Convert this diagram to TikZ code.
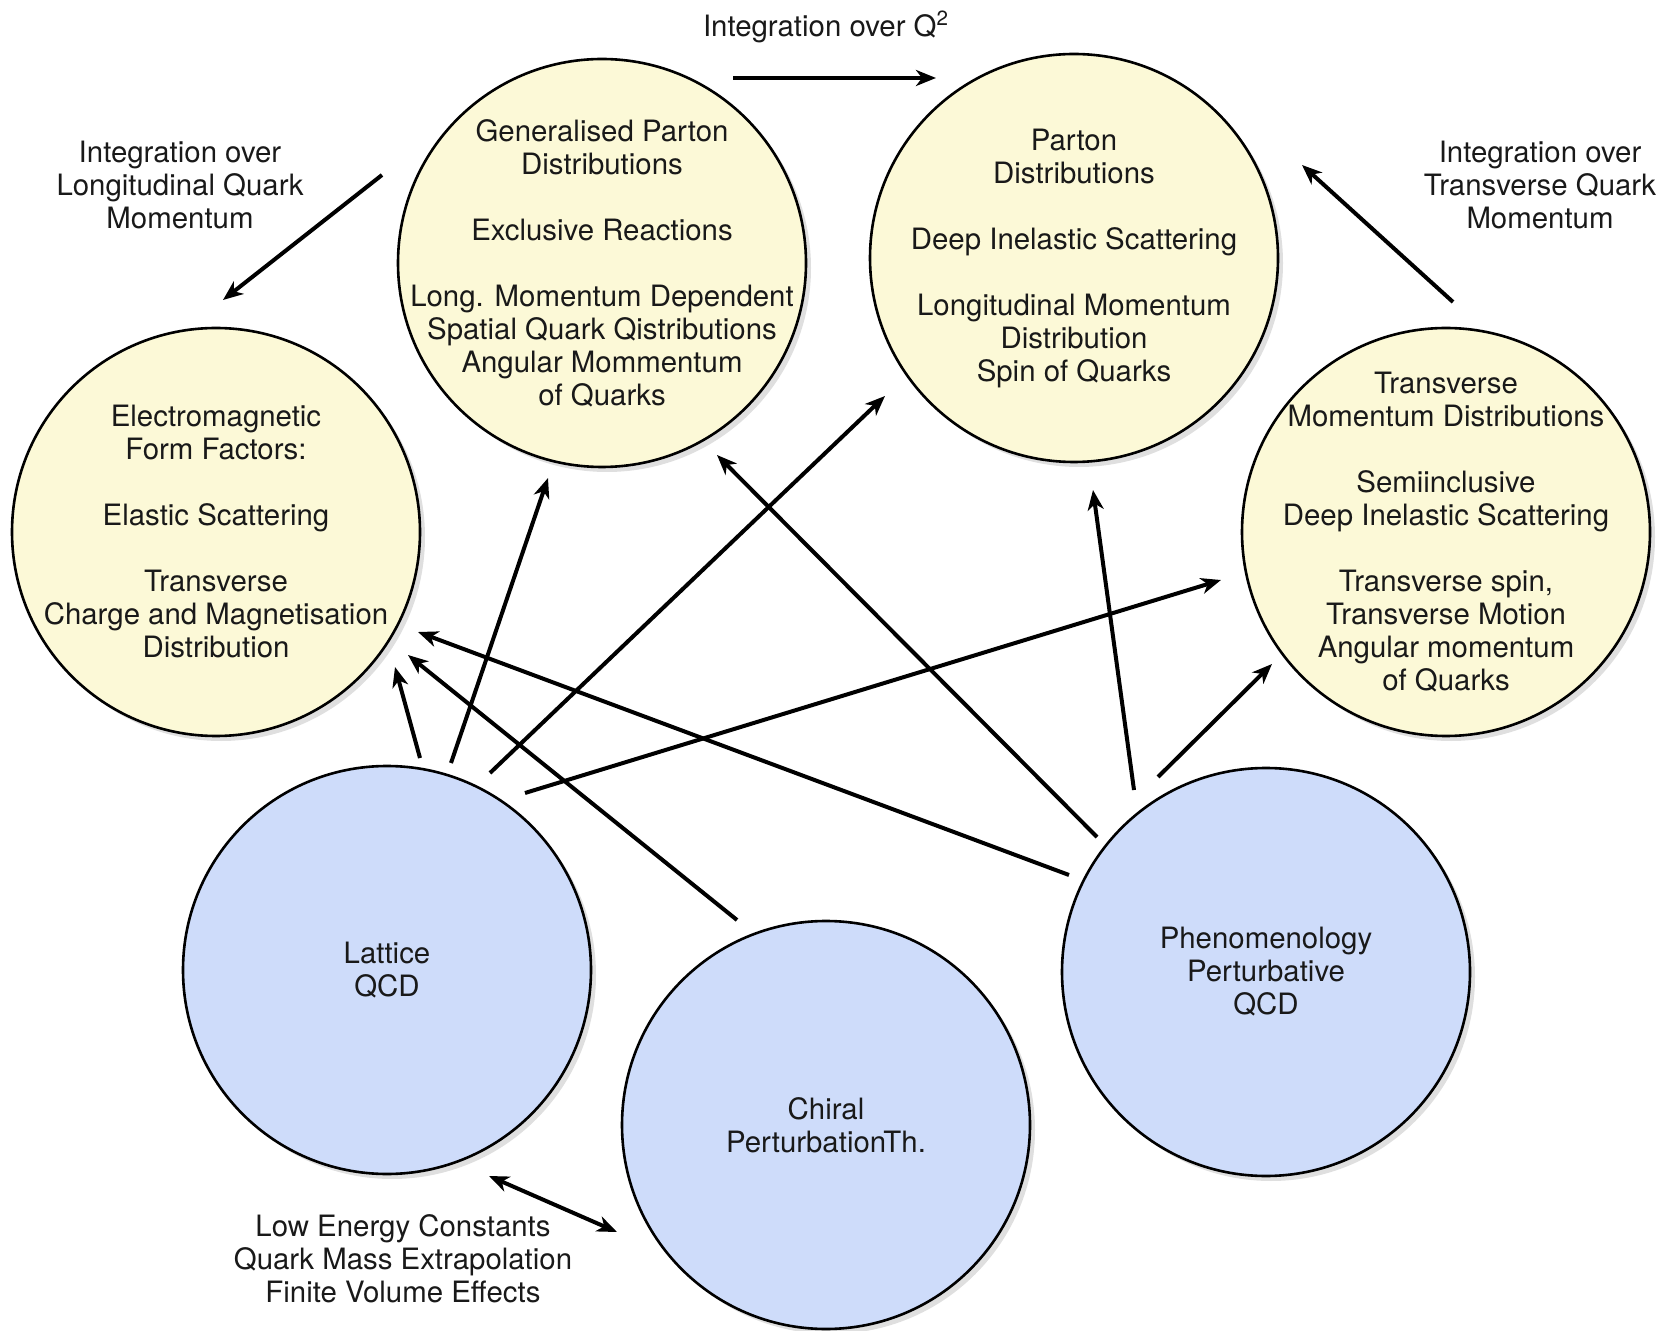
\documentclass[tikz,border=0pt]{standalone}
\usepackage{fontspec}
\setmainfont{TeX Gyre Heros}
\usetikzlibrary{arrows.meta,calc,shadows}

\definecolor{ballyellow}{RGB}{252,249,215}
\definecolor{ballblue}{RGB}{206,220,250}
\definecolor{inktext}{RGB}{25,25,25}

\tikzset{
	ball/.style={circle, draw=black, line width=1.3pt, minimum size=204pt, inner sep=0pt,
		drop shadow={shadow xshift=2.5pt, shadow yshift=-2.5pt, opacity=0.25}},
	yellowball/.style={ball, fill=ballyellow},
	blueball/.style={ball, fill=ballblue},
	balltext/.style={align=center, text=inktext, font=\fontsize{14.7}{16.5}\selectfont},
	link/.style={line width=2pt, -{Stealth[length=10pt, width=8pt, inset=3pt]}},
	twolink/.style={line width=2pt, {Stealth[length=10pt, width=8pt, inset=3pt]}-{Stealth[length=10pt, width=8pt, inset=3pt]}}
}

\begin{document}
\begin{tikzpicture}[x=0.5pt, y=0.5pt]
	
	\useasboundingbox (0,0) rectangle (1671,1330);
	
	% Kreise oben (Verteilungen)
	\node[yellowball] (em) at (216,798) {};
	\node[yellowball] (gpd) at (602,1067) {};
	\node[yellowball] (parton) at (1074,1072) {};
	\node[yellowball] (tmd) at (1446,798) {};
	
	% Kreise unten (Theorie)
	\node[blueball] (lattice) at (387,360) {};
	\node[blueball] (chiral) at (826,205) {};
	\node[blueball] (phen) at (1266,358) {};
	
	% Texte in den Kreisen
	\node[balltext] (emtext) at (em) {Electromagnetic\\Form Factors:\\[16.5pt]Elastic Scattering\\[16.5pt]Transverse\\Charge and Magnetisation\\Distribution};
	\node[balltext] (gpdtext) at (gpd) {Generalised Parton\\Distributions\\[16.5pt]Exclusive Reactions\\[16.5pt]Long. Momentum Dependent\\Spatial Quark Qistributions\\Angular Mommentum\\of Quarks};
	\node[balltext] (partontext) at (parton) {Parton\\Distributions\\[16.5pt]Deep Inelastic Scattering\\[16.5pt]Longitudinal Momentum\\Distribution\\Spin of Quarks};
	\node[balltext] (tmdtext) at (tmd) {Transverse\\Momentum Distributions\\[16.5pt]Semiinclusive\\Deep Inelastic Scattering\\[16.5pt]Transverse spin,\\Transverse Motion\\Angular momentum\\of Quarks};
	\node[balltext] (latticetext) at (lattice) {Lattice\\QCD};
	\node[balltext] (chiraltext) at (chiral) {Chiral\\PerturbationTh.};
	\node[balltext] (phentext) at (phen) {Phenomenology\\Perturbative\\QCD};
	
	% Integrationen
	\draw[link] ($(gpd)+(131,185)$) -- ($(parton)+(-138,180)$);
	\node[balltext] (qnote) at (826,1303) {Integration over Q\textsuperscript{2}};
	
	\draw[link] ($(gpd)+(-220,88)$) -- ($(em)+(7,232)$);
	\node[balltext] (longnote) at (180,1145) {Integration over\\Longitudinal Quark\\Momentum};
	
	\draw[link] ($(tmd)+(7,230)$) -- ($(parton)+(228,93)$);
	\node[balltext] (transnote) at (1540,1145) {Integration over\\Transverse Quark\\Momentum};
	
	% Pfeile von Lattice QCD
	\draw[link] ($(lattice)+(33,212)$) -- ($(em)+(179,-135)$);
	\draw[link] ($(lattice)+(64,207)$) -- ($(gpd)+(-54,-215)$);
	\draw[link] ($(lattice)+(103,197)$) -- ($(parton)+(-189,-138)$);
	\draw[link] ($(lattice)+(138,177)$) -- ($(tmd)+(-225,-48)$);
	
	% Pfeil von Chiral
	\draw[link] ($(chiral)+(-89,205)$) -- ($(em)+(192,-123)$);
	
	% Pfeile von Phenomenology
	\draw[link] ($(phen)+(-197,97)$) -- ($(em)+(202,-100)$);
	\draw[link] ($(phen)+(-169,135)$) -- ($(gpd)+(115,-192)$);
	\draw[link] ($(phen)+(-132,182)$) -- ($(parton)+(19,-232)$);
	\draw[link] ($(phen)+(-108,195)$) -- ($(tmd)+(-174,-132)$);
	
	% Lattice <-> Chiral
	\draw[twolink] ($(lattice)+(102,-206)$) -- ($(chiral)+(-209,-107)$);
	\node[balltext] (lecnote) at (403,71) {Low Energy Constants\\Quark Mass Extrapolation\\Finite Volume Effects};
	
\end{tikzpicture}
\end{document}
